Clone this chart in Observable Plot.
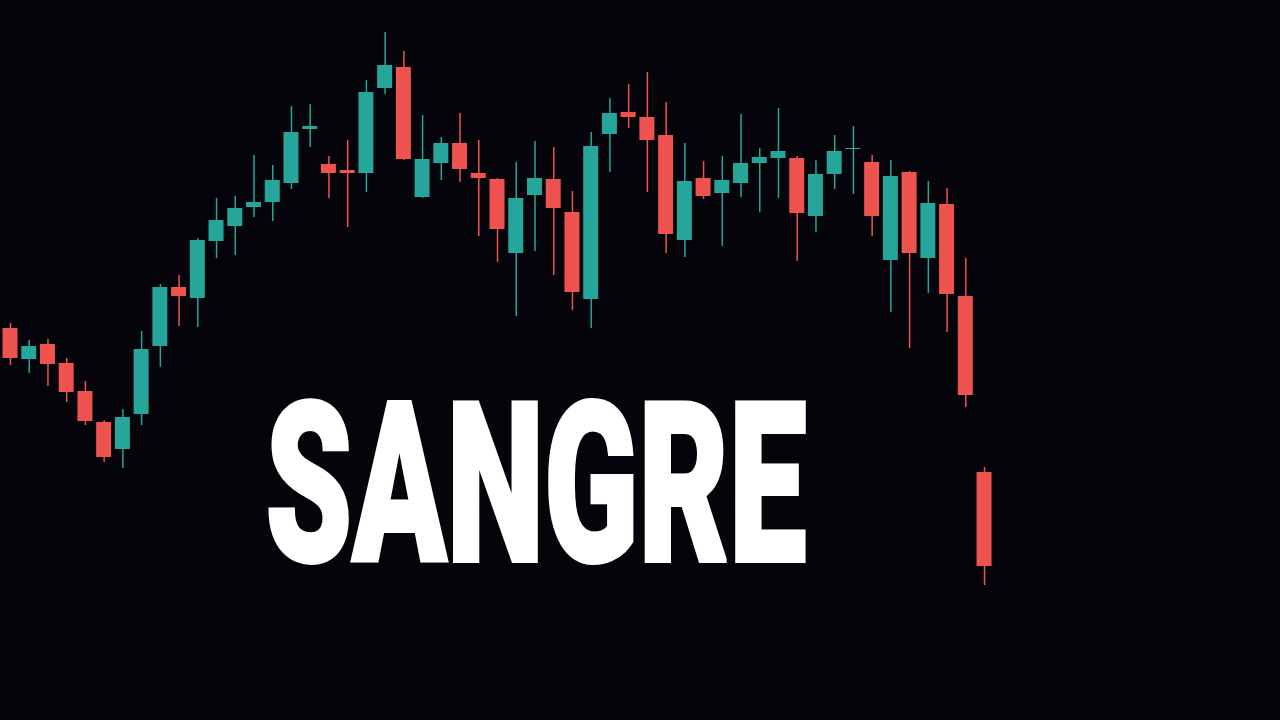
<!DOCTYPE html>
<html>
<head>
<meta charset="utf-8">
<script src="https://cdn.jsdelivr.net/npm/d3@7"></script>
<script src="https://cdn.jsdelivr.net/npm/@observablehq/plot@0.6"></script>
<style>
  html, body { margin: 0; padding: 0; background: #05040a; overflow: hidden; }
  #chart { width: 1280px; height: 720px; }
</style>
</head>
<body>
<div id="chart"></div>
<script>
// Candle data (index-based sessions)
const opens  = [392,361,376,357,329,298,271,306,374,433,422,479,494,513,518,537,591,556,550,547,632,653,523,557,577,547,541,467,525,541,508,421,586,608,603,585,480,542,527,537,557,562,562,504,546,571,558,460,548,462,516,424,248];
const highs  = [397,380,381,362,339,300,311,389,436,445,482,522,524,565,555,614,616,564,580,640,688,669,605,583,607,580,542,558,579,573,529,588,622,636,648,618,577,559,564,606,572,612,564,560,585,594,565,560,549,539,532,462,253];
const lows   = [355,347,334,318,295,258,252,295,353,394,393,462,465,503,499,531,573,522,493,528,626,560,522,540,538,484,458,404,469,445,410,392,548,592,528,467,463,521,474,523,508,522,459,488,531,526,484,408,372,427,388,313,135];
const closes = [362,374,356,328,299,263,303,371,433,424,480,500,512,518,540,588,594,547,547,628,655,561,561,577,551,542,491,522,542,512,428,574,607,603,580,486,539,524,540,557,563,569,507,546,569,572,504,544,467,517,426,325,154];
const title = "SANGRE";

const candles = opens.map((o, i) => ({
  i, open: o, high: highs[i], low: lows[i], close: closes[i],
  up: closes[i] >= o
}));

const UP = "#26a69a", DOWN = "#ef5350";

const chart = Plot.plot({
  width: 1280,
  height: 720,
  margin: 0,
  style: { background: "#05040a", overflow: "visible" },
  x: { domain: [-0.534, 67.8], axis: null },
  y: { domain: [0, 720], axis: null },
  marks: [
    Plot.ruleX(candles, {
      x: "i", y1: "low", y2: "high",
      stroke: d => d.up ? UP : DOWN, strokeWidth: 1.5
    }),
    Plot.rect(candles, {
      x1: d => d.i - 0.4, x2: d => d.i + 0.4,
      y1: "open", y2: "close",
      fill: d => d.up ? UP : DOWN
    }),
    Plot.text([title], {
      text: d => d,
      frameAnchor: "top-left",
      textAnchor: "start",
      lineAnchor: "top",
      dx: 265, dy: 403,
      fill: "white",
      stroke: "white",
      strokeWidth: 4,
      strokeLinejoin: "miter",
      fontSize: 222,
      fontWeight: 900,
      fontFamily: "Roboto, 'Noto Sans', sans-serif"
    })
  ]
});

document.getElementById("chart").appendChild(chart);
// condense the headline to the reference width
d3.select(chart).selectAll("text")
  .filter(function() { return this.textContent === title; })
  .attr("textLength", 541)
  .attr("lengthAdjust", "spacingAndGlyphs");
</script>
</body>
</html>
